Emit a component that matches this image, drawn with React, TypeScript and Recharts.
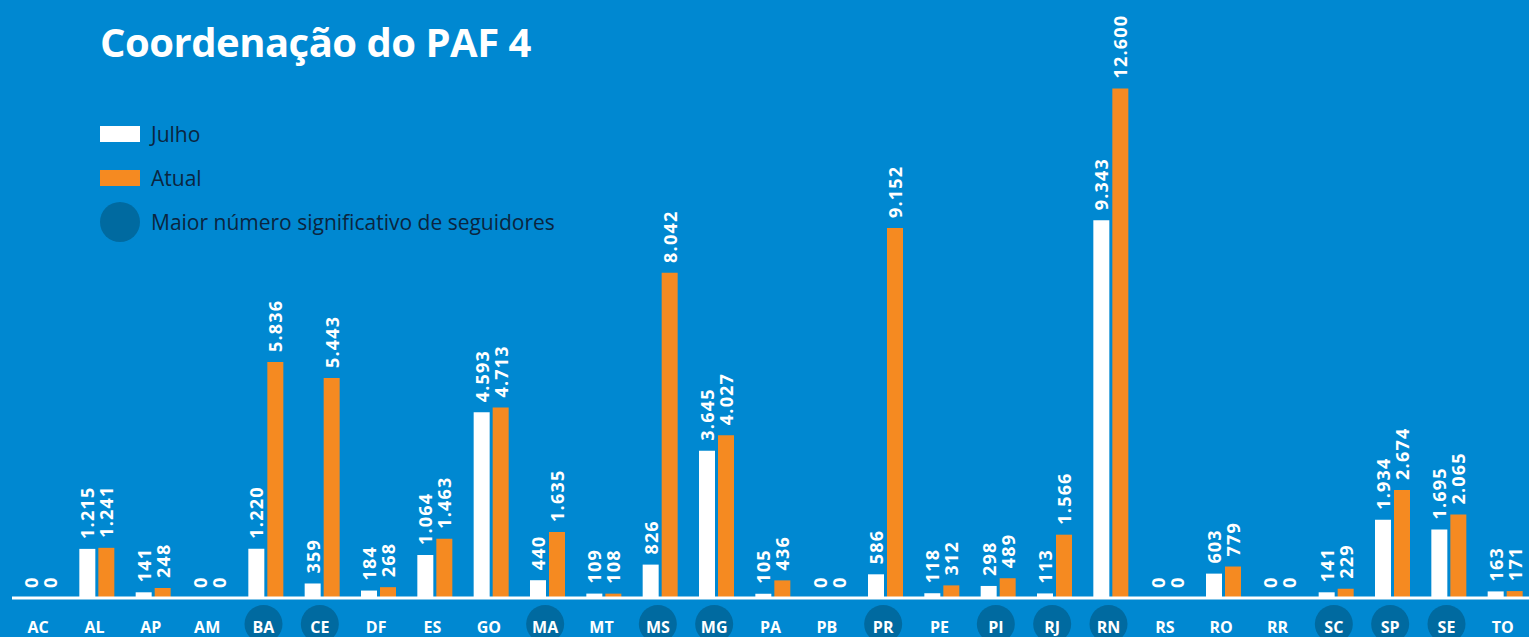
import { Bar, BarChart, LabelList, XAxis, YAxis } from "recharts"

const states = ["AC", "AL", "AP", "AM", "BA", "CE", "DF", "ES", "GO", "MA", "MT", "MS", "MG", "PA", "PB", "PR", "PE", "PI", "RJ", "RN", "RS", "RO", "RR", "SC", "SP", "SE", "TO"]
const julho = [0, 1215, 141, 0, 1220, 359, 184, 1064, 4593, 440, 109, 826, 3645, 105, 0, 586, 118, 298, 113, 9343, 0, 603, 0, 141, 1934, 1695, 163]
const atual = [0, 1241, 248, 0, 5836, 5443, 268, 1463, 4713, 1635, 108, 8042, 4027, 436, 0, 9152, 312, 489, 1566, 12600, 0, 779, 0, 229, 2674, 2065, 171]
const highlighted = ["BA", "CE", "MA", "MS", "MG", "PR", "PI", "RJ", "RN", "SC", "SP", "SE"]

const data = states.map((uf, i) => ({ uf, julho: julho[i], atual: atual[i] }))

const BG = "#0088d1"
const DARK = "#006aa0"
const ORANGE = "#f58a21"
const FONT = "'Open Sans', 'Noto Sans', sans-serif"

const fmt = (v: number) => v.toLocaleString("pt-BR")

function BarValue(props: any) {
  const { x, y, width, value } = props
  const cx = Number(x) + Number(width) / 2
  const ty = Number(y) - 10
  return (
    <text
      x={cx}
      y={ty}
      transform={`rotate(-90 ${cx} ${ty})`}
      textAnchor="start"
      dominantBaseline="central"
      fill="#fff"
      fontSize={18}
      fontWeight={700}
      letterSpacing={1.2}
      fontFamily={FONT}
    >
      {fmt(Number(value))}
    </text>
  )
}

function StateTick(props: any) {
  const { x, payload } = props
  const uf = payload.value as string
  const cx = Number(x) - 2
  return (
    <g>
      {highlighted.includes(uf) && <circle cx={cx} cy={624} r={19} fill={DARK} />}
      <text
        x={cx}
        y={627}
        textAnchor="middle"
        dominantBaseline="central"
        fill="#fff"
        fontSize={16}
        fontWeight={700}
        fontFamily={FONT}
      >
        {uf}
      </text>
    </g>
  )
}

export default function App() {
  return (
    <div
      style={{
        position: "fixed",
        left: 0,
        top: 0,
        width: 1529,
        height: 637,
        background: BG,
        overflow: "hidden",
        fontFamily: FONT,
      }}
    >
      <div
        style={{
          position: "absolute",
          left: 100,
          top: 14,
          color: "#fff",
          fontSize: 40,
          fontWeight: 700,
          letterSpacing: -0.5,
        }}
      >
        Coordenação do PAF 4
      </div>
      <div style={{ position: "absolute", left: 100, top: 112, color: "#0b2540", fontSize: 21 }}>
        <div style={{ display: "flex", alignItems: "center", height: 44 }}>
          <span style={{ width: 40, height: 16, background: "#fff", marginRight: 11 }} />
          Julho
        </div>
        <div style={{ display: "flex", alignItems: "center", height: 44 }}>
          <span style={{ width: 40, height: 16, background: ORANGE, marginRight: 11 }} />
          Atual
        </div>
        <div style={{ display: "flex", alignItems: "center", height: 44 }}>
          <span style={{ width: 40, height: 40, borderRadius: 20, background: DARK, marginRight: 11 }} />
          Maior número significativo de seguidores
        </div>
      </div>
      <BarChart
        width={1529}
        height={637}
        data={data}
        margin={{ top: 32, right: -4, left: 12, bottom: 0 }}
        barSize={16}
        barGap={3}
        style={{ position: "absolute", left: 0, top: 0 }}
      >
        <YAxis hide domain={[0, 14000]} />
        <XAxis
          dataKey="uf"
          interval={0}
          height={39}
          tickLine={false}
          axisLine={{ stroke: "#fff", strokeWidth: 3 }}
          tick={<StateTick />}
        />
        <Bar dataKey="julho" fill="#fff" minPointSize={0.01} isAnimationActive={false}>
          <LabelList dataKey="julho" content={<BarValue />} />
        </Bar>
        <Bar dataKey="atual" fill={ORANGE} minPointSize={0.01} isAnimationActive={false}>
          <LabelList dataKey="atual" content={<BarValue />} />
        </Bar>
      </BarChart>
    </div>
  )
}
